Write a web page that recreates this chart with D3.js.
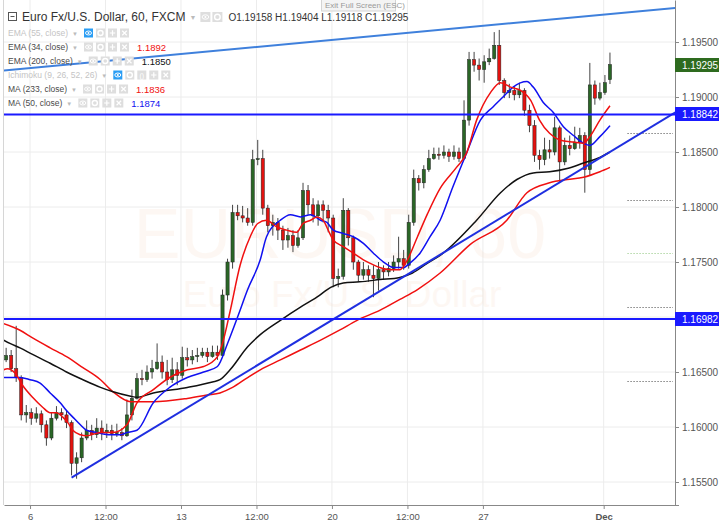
<!DOCTYPE html>
<html>
<head>
<meta charset="utf-8">
<script src="https://cdn.jsdelivr.net/npm/d3@7"></script>
<style>
  body { margin: 0; background: #fff; }
  svg { display: block; font-family: "Liberation Sans", Arial, sans-serif; }
</style>
</head>
<body>
<svg id="chart" width="719" height="523"></svg>
<script>
// time is counted in trading hours from Mon 6 Nov 00:00, one candle = 4 hours
const candleStart = -19;
const candleStep = 4;

// [open, high, low, close]
const candles = [
  [1.1661,1.1672,1.1659,1.1665],[1.1665,1.1670,1.1650,1.1653],[1.1653,1.1692,1.1641,1.1645],
  [1.1645,1.1647,1.1606,1.1611],[1.1611,1.1620,1.1604,1.1613],[1.1613,1.1617,1.1602,1.1608],
  [1.1608,1.1618,1.1604,1.1612],[1.1612,1.1615,1.1595,1.1602],[1.1602,1.1606,1.1583,1.1590],
  [1.1590,1.1613,1.1588,1.1608],[1.1608,1.1619,1.1606,1.1613],[1.1613,1.1617,1.1606,1.1611],
  [1.1611,1.1615,1.1599,1.1604],[1.1604,1.1606,1.1556,1.1567],[1.1567,1.1577,1.1553,1.1572],
  [1.1572,1.1595,1.1568,1.1590],[1.1590,1.1606,1.1588,1.1597],[1.1597,1.1602,1.1588,1.1593],
  [1.1593,1.1608,1.1590,1.1599],[1.1599,1.1606,1.1588,1.1595],[1.1595,1.1603,1.1590,1.1597],
  [1.1597,1.1602,1.1588,1.1594],[1.1594,1.1603,1.1591,1.1595],[1.1595,1.1599,1.1588,1.1592],
  [1.1592,1.1625,1.1591,1.1611],[1.1611,1.1634,1.1606,1.1626],[1.1626,1.1649,1.1625,1.1644],
  [1.1644,1.1652,1.1638,1.1643],[1.1643,1.1656,1.1641,1.1650],[1.1650,1.1661,1.1644,1.1653],
  [1.1653,1.1676,1.1652,1.1659],[1.1659,1.1665,1.1644,1.1650],[1.1650,1.1661,1.1638,1.1643],
  [1.1643,1.1663,1.1640,1.1652],[1.1652,1.1659,1.1638,1.1647],[1.1647,1.1673,1.1644,1.1663],
  [1.1663,1.1672,1.1655,1.1661],[1.1661,1.1670,1.1657,1.1664],[1.1664,1.1672,1.1659,1.1665],
  [1.1665,1.1672,1.1663,1.1668],[1.1668,1.1672,1.1659,1.1664],[1.1664,1.1674,1.1663,1.1668],
  [1.1668,1.1674,1.1661,1.1665],[1.1665,1.1725,1.1663,1.1720],[1.1720,1.1753,1.1715,1.1750],
  [1.1750,1.1802,1.1744,1.1795],[1.1795,1.1802,1.1788,1.1792],[1.1792,1.1801,1.1786,1.1790],
  [1.1790,1.1799,1.1783,1.1786],[1.1786,1.1852,1.1783,1.1843],[1.1843,1.1861,1.1838,1.1844],
  [1.1844,1.1852,1.1793,1.1799],[1.1799,1.1802,1.1777,1.1783],[1.1783,1.1793,1.1774,1.1786],
  [1.1786,1.1790,1.1770,1.1779],[1.1779,1.1783,1.1761,1.1770],[1.1770,1.1781,1.1763,1.1774],
  [1.1774,1.1779,1.1759,1.1765],[1.1765,1.1779,1.1763,1.1772],[1.1772,1.1822,1.1770,1.1815],
  [1.1815,1.1820,1.1793,1.1802],[1.1802,1.1808,1.1786,1.1792],[1.1792,1.1806,1.1783,1.1802],
  [1.1802,1.1806,1.1786,1.1797],[1.1797,1.1802,1.1777,1.1790],[1.1790,1.1793,1.1727,1.1735],
  [1.1735,1.1744,1.1727,1.1737],[1.1737,1.1808,1.1734,1.1797],[1.1797,1.1799,1.1765,1.1772],
  [1.1772,1.1774,1.1743,1.1750],[1.1750,1.1752,1.1732,1.1738],[1.1738,1.1750,1.1734,1.1743],
  [1.1743,1.1747,1.1732,1.1738],[1.1738,1.1747,1.1718,1.1735],[1.1735,1.1750,1.1724,1.1743],
  [1.1743,1.1747,1.1734,1.1741],[1.1741,1.1750,1.1737,1.1744],[1.1744,1.1756,1.1741,1.1750],
  [1.1750,1.1773,1.1744,1.1753],[1.1753,1.1761,1.1743,1.1747],[1.1747,1.1793,1.1744,1.1786],
  [1.1786,1.1834,1.1783,1.1826],[1.1826,1.1829,1.1815,1.1822],[1.1822,1.1838,1.1817,1.1834],
  [1.1834,1.1852,1.1832,1.1844],[1.1844,1.1854,1.1843,1.1848],[1.1848,1.1854,1.1843,1.1847],
  [1.1847,1.1856,1.1844,1.1850],[1.1850,1.1853,1.1841,1.1846],[1.1846,1.1856,1.1843,1.1850],
  [1.1850,1.1854,1.1841,1.1844],[1.1844,1.1897,1.1843,1.1879],[1.1879,1.1941,1.1874,1.1934],
  [1.1934,1.1941,1.1923,1.1929],[1.1929,1.1935,1.1915,1.1925],[1.1925,1.1938,1.1913,1.1932],
  [1.1932,1.1944,1.1929,1.1935],[1.1935,1.1959,1.1934,1.1947],[1.1947,1.1961,1.1911,1.1915],
  [1.1915,1.1917,1.1899,1.1904],[1.1904,1.1912,1.1899,1.1906],[1.1906,1.1910,1.1897,1.1902],
  [1.1902,1.1913,1.1899,1.1906],[1.1906,1.1908,1.1883,1.1888],[1.1888,1.1893,1.1868,1.1874],
  [1.1874,1.1879,1.1841,1.1847],[1.1847,1.1852,1.1834,1.1843],[1.1843,1.1863,1.1838,1.1852],
  [1.1852,1.1861,1.1844,1.1850],[1.1850,1.1882,1.1847,1.1872],[1.1872,1.1874,1.1822,1.1841],
  [1.1841,1.1863,1.1838,1.1856],[1.1856,1.1865,1.1847,1.1853],[1.1853,1.1873,1.1852,1.1859],
  [1.1859,1.1872,1.1853,1.1865],[1.1865,1.1868,1.1813,1.1834],[1.1834,1.1931,1.1829,1.1911],
  [1.1911,1.1915,1.1893,1.1899],[1.1899,1.1913,1.1897,1.1904],[1.1904,1.1920,1.1902,1.1913],
  [1.19158,1.19404,1.19118,1.19295]
];

// indicator lines, [hour, value]
const ema34 = [[-21,1.1652],[-18,1.1653],[-12,1.1649],[-6,1.1638],[2,1.1627],[10,1.1618],[16,1.1613],
  [21,1.1613],[26,1.1609],[30,1.1604],[34,1.1597],[40,1.1593],[45,1.1592],[56,1.1595],[66,1.1595],
  [77,1.1602],[85,1.1622],[98,1.1634],[111,1.1645],[125,1.1652],[138,1.1655],[149,1.1664],[153,1.1676],
  [159,1.1705],[167,1.1747],[175,1.1773],[181,1.1785],[188,1.1788],[196,1.1782],[204,1.1779],
  [212,1.1777],[217,1.1785],[223,1.1788],[228,1.1791],[233,1.1788],[237,1.1779],[241,1.1770],
  [249,1.1764],[257,1.1758],[265,1.1752],[270,1.1749],[278,1.1745],[286,1.1743],[294,1.1743],
  [300,1.1752],[308,1.1773],[316,1.1794],[326,1.1817],[339,1.1836],[347,1.1849],[355,1.1879],
  [366,1.1904],[374,1.1913],[382,1.1909],[390,1.1906],[398,1.1897],[405,1.1879],[413,1.1867],
  [421,1.1861],[432,1.1859],[440,1.1858],[445,1.1864],[453,1.1879],[461,1.1892]];
const ma50 = [[-21,1.1645],[-16,1.1645],[-8,1.1645],[0,1.1643],[8,1.1640],[16,1.1631],[24,1.1622],
  [29,1.1615],[34,1.1609],[40,1.1602],[45,1.1597],[53,1.1595],[64,1.1593],[72,1.1593],[77,1.1595],
  [85,1.1597],[98,1.1622],[111,1.1636],[125,1.1645],[138,1.1650],[149,1.1655],[157,1.1676],
  [165,1.1700],[173,1.1725],[183,1.1752],[188,1.1773],[199,1.1788],[207,1.1793],[215,1.1791],
  [223,1.1793],[231,1.1788],[236,1.1786],[241,1.1779],[249,1.1776],[257,1.1773],[265,1.1767],
  [273,1.1758],[281,1.1750],[289,1.1745],[297,1.1745],[302,1.1749],[310,1.1758],[318,1.1773],
  [326,1.1788],[336,1.1818],[347,1.1849],[358,1.1879],[368,1.1891],[376,1.1900],[384,1.1909],
  [395,1.1914],[400,1.1909],[408,1.1895],[416,1.1886],[424,1.1873],[432,1.1865],[440,1.1858],
  [445,1.1856],[453,1.1864],[461,1.1874]];
const ema200 = [[-21,1.1679],[-16,1.1676],[-8,1.1672],[2,1.1666],[16,1.1658],[29,1.1650],[42,1.1643],
  [56,1.1636],[66,1.1632],[80,1.1628],[85,1.1627],[98,1.1631],[125,1.1636],[145,1.1641],[151,1.1643],
  [159,1.1652],[173,1.1673],[183,1.1684],[199,1.1697],[215,1.1709],[228,1.1718],[239,1.1727],
  [249,1.1731],[262,1.1732],[278,1.1734],[294,1.1736],[304,1.1740],[316,1.1749],[326,1.1756],
  [355,1.1788],[374,1.1813],[387,1.1825],[400,1.1831],[413,1.1832],[427,1.1835],[440,1.1840],
  [453,1.1845],[461,1.1850]];
const ma233 = [[-21,1.1694],[-8,1.1688],[2,1.1681],[16,1.1672],[29,1.1664],[42,1.1654],[56,1.1643],
  [66,1.1632],[80,1.1623],[98,1.1623],[125,1.1626],[141,1.1629],[151,1.1631],[161,1.1636],
  [173,1.1645],[183,1.1652],[199,1.1661],[215,1.1670],[231,1.1679],[246,1.1688],[260,1.1697],
  [278,1.1706],[294,1.1716],[308,1.1725],[326,1.1740],[350,1.1766],[379,1.1788],[395,1.1813],
  [413,1.1822],[427,1.1825],[440,1.1827],[453,1.1832],[461,1.1836]];

const trendUpper = [[-21,1.1924],[513,1.1981]];
const trendLower = [[33,1.1554],[513,1.1886]];
const hLevels = [1.18842, 1.16982];
const lastPrice = 1.19295;
const sideLevels = [1.1867, 1.1806, 1.1758, 1.1709, 1.1642];
const sideStart = 475;

const priceTicks = [1.155, 1.16, 1.165, 1.17, 1.175, 1.18, 1.185, 1.19, 1.195];
const timeTicks = [0, 60, 120, 180, 240, 300, 360, 456];
const timeLabels = ["6", "12:00", "13", "12:00", "20", "12:00", "27", "Dec"];

const ohlc = { o: "1.19158", h: "1.19404", l: "1.19118", c: "1.19295" };

const svg = d3.select("#chart");
const plot = { left: 4, right: 675, top: 0, bottom: 505 };

const x = d3.scaleLinear().domain([-20.7, 512.7]).range([plot.left, plot.right]);
const y = d3.scaleLinear().domain([1.15291, 1.19882]).range([plot.bottom, plot.top]);

// grid
svg.append("g").selectAll("line").data(timeTicks).join("line")
  .attr("x1", d => x(d)).attr("x2", d => x(d))
  .attr("y1", plot.top).attr("y2", plot.bottom)
  .attr("stroke", "#ececec");
svg.append("g").selectAll("line").data(priceTicks).join("line")
  .attr("x1", plot.left).attr("x2", plot.right)
  .attr("y1", d => y(d)).attr("y2", d => y(d))
  .attr("stroke", "#ececec");
svg.append("line")
  .attr("x1", plot.left - 0.5).attr("x2", plot.left - 0.5)
  .attr("y1", 0).attr("y2", plot.bottom)
  .attr("stroke", "#d6d6d6");

// watermark
svg.append("text")
  .attr("x", 340).attr("y", 258)
  .attr("text-anchor", "middle")
  .style("font-size", "70px")
  .style("fill", "#f6c9a6").style("opacity", 0.13)
  .text("EURUSD, 60");
svg.append("text")
  .attr("x", 342).attr("y", 307)
  .attr("text-anchor", "middle")
  .style("font-size", "37px")
  .style("fill", "#f6c9a6").style("opacity", 0.13)
  .text("Euro Fx/U.S. Dollar");

svg.append("clipPath").attr("id", "clip")
  .append("rect")
  .attr("x", plot.left).attr("y", plot.top)
  .attr("width", plot.right - plot.left).attr("height", plot.bottom - plot.top);

const g = svg.append("g").attr("clip-path", "url(#clip)");

// dotted side levels
g.selectAll(".side").data(sideLevels).join("line")
  .attr("x1", x(sideStart)).attr("x2", plot.right - 2)
  .attr("y1", d => Math.round(y(d)) + 0.5).attr("y2", d => Math.round(y(d)) + 0.5)
  .attr("stroke", (d, i) => i === 2 ? "#8cc47a" : "#444")
  .attr("stroke-dasharray", "1,2");

// candles
const bodyW = 3.2;
const cg = g.append("g");
candles.forEach((c, i) => {
  const t = candleStart + i * candleStep;
  const cx = x(t);
  const up = c[3] >= c[0];
  cg.append("line")
    .attr("x1", cx).attr("x2", cx)
    .attr("y1", y(c[1])).attr("y2", y(c[2]))
    .attr("stroke", "#444").attr("stroke-width", 1);
  const top = y(Math.max(c[0], c[3]));
  const bot = y(Math.min(c[0], c[3]));
  cg.append("rect")
    .attr("x", cx - bodyW / 2).attr("y", top)
    .attr("width", bodyW).attr("height", Math.max(1, bot - top))
    .attr("fill", up ? "#2a6626" : "#e3120f")
    .attr("stroke", "#222").attr("stroke-width", 0.5);
});

// moving averages
const line = d3.line()
  .x(d => x(d[0]))
  .y(d => y(d[1]))
  .curve(d3.curveMonotoneX);

const series = [
  { data: ma233, color: "#f01010" },
  { data: ema200, color: "#111" },
  { data: ma50, color: "#1010f0" },
  { data: ema34, color: "#f01010" }
];
series.forEach(s => {
  g.append("path")
    .datum(s.data)
    .attr("fill", "none")
    .attr("stroke", s.color)
    .attr("stroke-width", 1.5)
    .attr("d", line);
});

// trend lines and levels
const straight = d3.line().x(d => x(d[0])).y(d => y(d[1]));
g.append("path").datum(trendUpper)
  .attr("fill", "none").attr("stroke", "#3f80dc").attr("stroke-width", 2)
  .attr("d", straight);
g.append("path").datum(trendLower)
  .attr("fill", "none").attr("stroke", "#1f2fe0").attr("stroke-width", 2)
  .attr("d", straight);
g.selectAll(".hl").data(hLevels).join("line")
  .attr("x1", plot.left).attr("x2", plot.right)
  .attr("y1", d => y(d)).attr("y2", d => y(d))
  .attr("stroke", "#1a1aff").attr("stroke-width", 2);

// price tags hide the tick labels they sit on
const tags = hLevels.concat([lastPrice]);
const hidden = d => tags.some(p => Math.abs(y(p) - y(d)) < 10);

// axes
const yAxis = svg.append("g")
  .attr("transform", "translate(" + plot.right + ",0)")
  .call(d3.axisRight(y).tickValues(priceTicks).tickSize(4).tickSizeOuter(0).tickPadding(3)
    .tickFormat(d => hidden(d) ? "" : d3.format(".5f")(d)));
yAxis.select(".domain").attr("stroke", "#888");
yAxis.selectAll(".tick line").attr("stroke", "#888");
yAxis.selectAll("text").style("font-size", "10px").style("fill", "#555");

const xAxis = svg.append("g")
  .attr("transform", "translate(0," + plot.bottom + ")")
  .call(d3.axisBottom(x).tickValues(timeTicks).tickSize(4).tickSizeOuter(0).tickPadding(4)
    .tickFormat((d, i) => timeLabels[i]));
xAxis.select(".domain").attr("stroke", "#888");
xAxis.selectAll(".tick line").attr("stroke", "#888");
xAxis.selectAll("text").style("font-size", "9.5px").style("fill", "#555")
  .style("font-weight", (d, i) => timeLabels[i] === "Dec" ? "bold" : "normal");
svg.append("line")
  .attr("x1", plot.right).attr("x2", plot.right + 4)
  .attr("y1", plot.bottom + 0.5).attr("y2", plot.bottom + 0.5)
  .attr("stroke", "#888");

// price labels on the axis
function priceTag(p, fill) {
  const yy = Math.round(y(p));
  svg.append("rect")
    .attr("x", plot.right).attr("y", yy - 7)
    .attr("width", 719 - plot.right).attr("height", 14)
    .attr("fill", fill);
  svg.append("text")
    .attr("x", plot.right + 7).attr("y", yy + 3.5)
    .style("font-size", "10px").style("fill", "#fff")
    .text(p.toFixed(5));
}
hLevels.forEach(p => priceTag(p, "#1a1aff"));
priceTag(lastPrice, "#2e6b1f");

// legend
const leg = svg.append("g");

function icon(gr, x0, cy, kind, active, size) {
  const s = size || 9;
  gr.append("rect")
    .attr("x", x0).attr("y", cy - s / 2)
    .attr("width", s).attr("height", s)
    .attr("fill", active ? "#2a9df4" : "#dedede");
  const mx = x0 + s / 2;
  if (kind === "eye") {
    gr.append("ellipse").attr("cx", mx).attr("cy", cy).attr("rx", s * 0.33).attr("ry", s * 0.22)
      .attr("fill", "none").attr("stroke", "#fff").attr("stroke-width", 1);
    gr.append("circle").attr("cx", mx).attr("cy", cy).attr("r", 1).attr("fill", "#fff");
  } else if (kind === "gear") {
    gr.append("circle").attr("cx", mx).attr("cy", cy).attr("r", s * 0.28)
      .attr("fill", "none").attr("stroke", "#fff").attr("stroke-width", 1.4);
  } else if (kind === "plus") {
    gr.append("path")
      .attr("d", `M${mx - s * 0.3},${cy}H${mx + s * 0.3}M${mx},${cy - s * 0.3}V${cy + s * 0.3}`)
      .attr("stroke", "#fff").attr("stroke-width", 1.2);
  } else if (kind === "x") {
    const r = s * 0.25;
    gr.append("path")
      .attr("d", `M${mx - r},${cy - r}L${mx + r},${cy + r}M${mx + r},${cy - r}L${mx - r},${cy + r}`)
      .attr("stroke", "#fff").attr("stroke-width", 1.2);
  } else if (kind === "paren") {
    gr.append("text").attr("x", mx).attr("y", cy + 2.5).attr("text-anchor", "middle")
      .style("font-size", "7px").style("fill", "#fff").text("()");
  }
}

// title row
leg.append("rect").attr("x", 8.5).attr("y", 12.5).attr("width", 8).attr("height", 8)
  .attr("fill", "#fff").attr("stroke", "#555");
leg.append("line").attr("x1", 10.5).attr("x2", 14.5).attr("y1", 16.5).attr("y2", 16.5)
  .attr("stroke", "#555");
const title = leg.append("text")
  .attr("x", 22).attr("y", 21)
  .style("font-size", "12px").style("fill", "#333")
  .text("Euro Fx/U.S. Dollar, 60, FXCM");
const tEnd = 22 + title.node().getComputedTextLength();
leg.append("text").attr("x", tEnd + 4).attr("y", 20)
  .style("font-size", "7px").style("fill", "#bbb").text("▼");
icon(leg, tEnd + 15, 17, "eye", false, 10);
icon(leg, tEnd + 27, 17, "gear", false, 10);
leg.append("text")
  .attr("x", tEnd + 43).attr("y", 21)
  .style("font-size", "10px").style("fill", "#333")
  .text(`O${ohlc.o}  H${ohlc.h}  L${ohlc.l}  C${ohlc.c}`);

const legendRows = [
  { name: "EMA (55, close)", on: false, icons: ["eye", "gear", "plus", "x"] },
  { name: "EMA (34, close)", on: true, data: ema34, color: "#f01010", icons: ["eye", "gear", "plus", "x"] },
  { name: "EMA (200, close)", on: true, data: ema200, color: "#111", icons: ["eye", "gear", "plus", "x"] },
  { name: "Ichimoku (9, 26, 52, 26)", on: false, icons: ["eye", "gear", "paren", "plus", "x"] },
  { name: "MA (233, close)", on: true, data: ma233, color: "#f01010", icons: ["eye", "gear", "plus", "x"] },
  { name: "MA (50, close)", on: true, data: ma50, color: "#1010f0", icons: ["eye", "gear", "plus", "x"] }
];

legendRows.forEach((r, i) => {
  const cy = 33 + i * 14;
  const t = leg.append("text")
    .attr("x", 8).attr("y", cy + 3)
    .style("font-size", "8.5px").style("fill", r.on ? "#4a4a4a" : "#c4c4c4")
    .text(r.name);
  const end = 8 + t.node().getComputedTextLength();
  leg.append("text").attr("x", end + 4).attr("y", cy + 2.5)
    .style("font-size", "6px").style("fill", "#bbb").text("▼");
  const start = end + 16;
  r.icons.forEach((k, j) => icon(leg, start + j * 12, cy, k, !r.on && k === "eye"));
  if (r.on) {
    const last = r.data[r.data.length - 1][1];
    leg.append("text")
      .attr("x", start + r.icons.length * 12 + 5).attr("y", cy + 3.5)
      .style("font-size", "9.5px").style("fill", r.color)
      .text(last.toFixed(4));
  }
});

// full screen hint
svg.append("rect").attr("x", 321.5).attr("y", -1).attr("width", 74).attr("height", 12)
  .attr("fill", "#f4f4f4").attr("stroke", "#d4d4d4");
svg.append("text").attr("x", 325).attr("y", 8)
  .style("font-size", "8px").style("fill", "#999")
  .text("Exit Full Screen (ESC)");
</script>
</body>
</html>
